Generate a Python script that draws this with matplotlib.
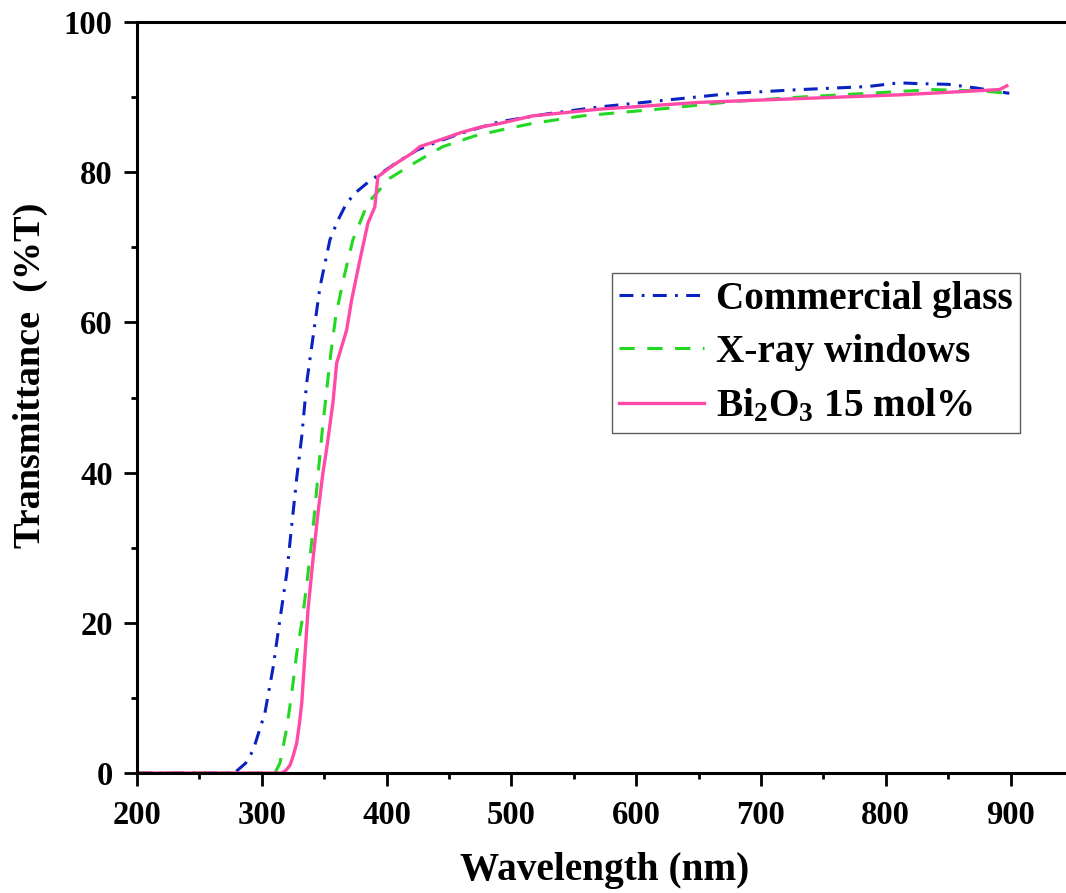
import matplotlib
matplotlib.use("Agg")
import matplotlib.pyplot as plt
from matplotlib.ticker import MultipleLocator

plt.rcParams['font.family'] = ['Liberation Serif', 'DejaVu Serif']
plt.rcParams['font.weight'] = 'bold'
plt.rcParams['mathtext.fontset'] = 'custom'
plt.rcParams['mathtext.rm'] = 'Liberation Serif:bold'
plt.rcParams['mathtext.it'] = 'Liberation Serif:bold'
plt.rcParams['mathtext.bf'] = 'Liberation Serif:bold'
plt.rcParams['lines.scale_dashes'] = False

# Commercial glass
wl_com = [200, 250, 278, 287, 293, 302.5, 309, 314.5, 320, 324, 328, 332, 336, 341,
          346.6, 354.6, 361, 368, 376, 384, 395, 410, 425, 440, 460, 490, 530, 571,
          624, 677, 731, 785, 811, 825, 850, 873, 899]
t_com = [0, 0, 0, 1.3, 3, 8, 14, 20.4, 26.6, 33, 39.3, 44.8, 52, 58,
         64.7, 71, 73.6, 75.9, 77.4, 78.5, 79.8, 81.5, 83, 84, 85.2, 86.7, 87.8, 88.7,
         89.6, 90.5, 91, 91.4, 91.9, 91.8, 91.7, 91.2, 90.5]

# X-ray windows
wl_xray = [200, 250, 310.5, 314.5, 320, 324, 328, 332.6, 336.4, 340, 343, 345.8, 348.7,
           352, 355.4, 359.4, 365.8, 373, 385, 402.6, 424, 445, 470, 491, 517, 557,
           624.5, 677, 731, 785, 837.5, 878, 899]
t_xray = [0, 0, 0, 1.3, 6, 10.6, 16, 20.6, 25.7, 30.8, 36, 41, 46,
          51, 56, 61, 66, 71, 75.9, 79.2, 81.4, 83.4, 84.8, 85.6, 86.5, 87.5,
          88.5, 89.4, 90, 90.5, 91, 90.8, 90.5]

# Bi2O3 15 mol%
wl_bi = [200, 250, 316, 319, 322.5, 325, 328, 330, 332, 334.5, 337, 341, 345, 349, 352, 357, 360,
         362.6, 368, 372, 378.6, 385, 390.6, 393, 402.6, 410.6, 421, 426.6, 442.7,
         460, 475, 491, 517, 571, 651, 731, 811, 891, 897]
t_bi = [0, 0, 0, 0.3, 1, 2.2, 4, 6.4, 9.3, 15.5, 21.7, 28.4, 34.6, 40, 43.2, 49.3, 54.6,
        56, 59, 63, 68.3, 73.2, 75.4, 79.4, 80.6, 81.5, 82.6, 83.4, 84.3,
        85.3, 86, 86.5, 87.5, 88.4, 89.3, 89.8, 90.3, 91.0, 91.5]

labels = ['Commercial glass', 'X-ray windows', r'$\mathrm{Bi_2O_3}$ 15 mol%']

fig = plt.figure(figsize=(10.66, 8.93), dpi=100)
ax = fig.add_axes([137 / 1066, 120 / 893, 936 / 1066, 751 / 893])

ax.plot(wl_com, t_com, color='#0a22c0', lw=2.2, dashes=(10, 6, 2, 6), label=labels[0])
ax.plot(wl_xray, t_xray, color='#22d822', lw=2.2, dashes=(11, 9), label=labels[1])
ax.plot(wl_bi, t_bi, color='#ff4aa8', lw=2.4, label=labels[2])

ax.set_xlim(200, 950)
ax.set_ylim(0, 100)
ax.xaxis.set_major_locator(MultipleLocator(100))
ax.xaxis.set_minor_locator(MultipleLocator(50))
ax.yaxis.set_major_locator(MultipleLocator(20))
ax.yaxis.set_minor_locator(MultipleLocator(10))
ax.set_xticks(range(200, 1000, 100))
ax.set_xticklabels([str(v) for v in range(200, 1000, 100)])
ax.set_xlim(200, 950)

for s in ['left', 'bottom', 'top']:
    ax.spines[s].set_linewidth(2.2)
ax.spines['right'].set_visible(False)
ax.tick_params(which='major', direction='out', length=9.5, width=2, labelsize=23.5)
ax.tick_params(which='minor', direction='out', length=4.5, width=2)
ax.tick_params(axis='x', which='major', pad=10)
ax.tick_params(axis='y', which='major', pad=8)

ax.set_xlabel('Wavelength (nm)', fontsize=28.3, fontweight='bold')
ax.set_ylabel('Transmittance  (%T)', fontsize=27.5, fontweight='bold')
ax.xaxis.set_label_coords(0.5, -0.13)
ax.xaxis.label.set_va('center')
ax.yaxis.set_label_coords(-0.114, 0.53)
ax.yaxis.label.set_va('center')

leg = ax.legend(loc='upper left', bbox_to_anchor=(0.507, 0.666), borderaxespad=0,
                fontsize=28.3, handlelength=2.15, handletextpad=0.3, labelspacing=0.42,
                fancybox=False, frameon=True, borderpad=0.2)
leg.get_frame().set_edgecolor('#333333')
leg.get_frame().set_linewidth(1.0)

fig.savefig('out.png', dpi=100)
